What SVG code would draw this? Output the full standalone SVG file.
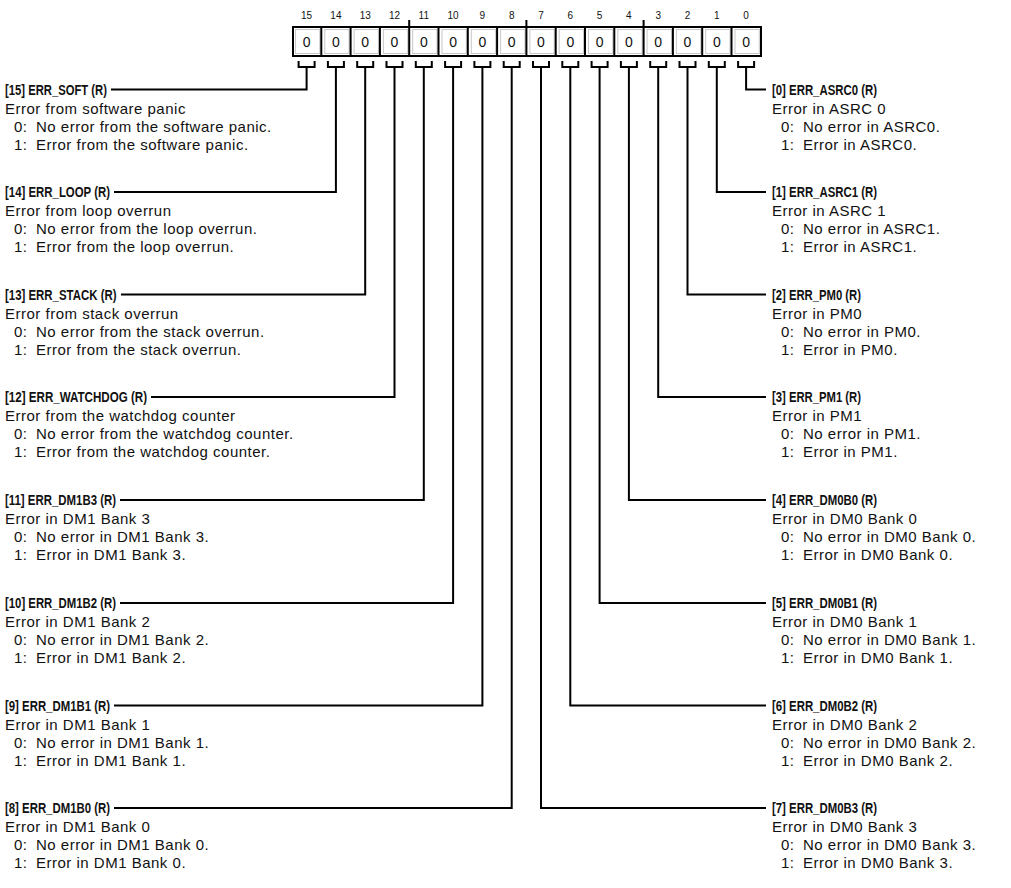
<svg xmlns="http://www.w3.org/2000/svg" width="1011" height="888" viewBox="0 0 1011 888">
<style>
text{font-family:"Liberation Sans",Arial,sans-serif;fill:#111}
.t{font-size:14.5px;font-weight:bold}
.d{font-size:15px;letter-spacing:0.5px}
.n{font-size:10px;text-anchor:middle}
.v{font-size:14px;text-anchor:middle}
.ln{fill:none;stroke:#000;stroke-width:2}
.cell{fill:#fff;stroke:#000;stroke-width:2}
.inner{fill:none;stroke:#c8c8c8;stroke-width:1}
</style>
<defs>
<path id="br" d="M-8,61 V67 H8 V61" class="ln"/>
</defs>
<g id="register">
<g>
<text class="n" x="306.6" y="19">15</text><text class="n" x="335.9" y="19">14</text><text class="n" x="365.2" y="19">13</text><text class="n" x="394.5" y="19">12</text>
<text class="n" x="423.8" y="19">11</text><text class="n" x="453.1" y="19">10</text><text class="n" x="482.4" y="19">9</text><text class="n" x="511.7" y="19">8</text>
<text class="n" x="541" y="19">7</text><text class="n" x="570.3" y="19">6</text><text class="n" x="599.6" y="19">5</text><text class="n" x="628.9" y="19">4</text>
<text class="n" x="658.2" y="19">3</text><text class="n" x="687.5" y="19">2</text><text class="n" x="716.8" y="19">1</text><text class="n" x="746.1" y="19">0</text>
</g>
<rect class="cell" x="293" y="27" width="468" height="29"/>
<g class="inner">
<rect x="295.5" y="29.5" width="24.3" height="24"/><rect x="324.8" y="29.5" width="24.3" height="24"/><rect x="354.1" y="29.5" width="24.3" height="24"/><rect x="383.4" y="29.5" width="24.3" height="24"/>
<rect x="412.7" y="29.5" width="24.3" height="24"/><rect x="442" y="29.5" width="24.3" height="24"/><rect x="471.3" y="29.5" width="24.3" height="24"/><rect x="500.6" y="29.5" width="24.3" height="24"/>
<rect x="529.9" y="29.5" width="24.3" height="24"/><rect x="559.2" y="29.5" width="24.3" height="24"/><rect x="588.5" y="29.5" width="24.3" height="24"/><rect x="617.8" y="29.5" width="24.3" height="24"/>
<rect x="647.1" y="29.5" width="24.3" height="24"/><rect x="676.4" y="29.5" width="24.3" height="24"/><rect x="705.7" y="29.5" width="24.3" height="24"/><rect x="735" y="29.5" width="24.3" height="24"/>
</g>
<path class="ln" d="M321.3,27V56M350.6,27V56M379.9,27V56M409.2,20V56M438.5,27V56M467.8,27V56M497.1,27V56M526.4,20V56M555.7,27V56M585,27V56M614.3,27V56M643.6,20V56M672.9,27V56M702.2,27V56M731.5,27V56"/>
<g>
<text class="v" x="306.6" y="46.5">0</text><text class="v" x="335.9" y="46.5">0</text><text class="v" x="365.2" y="46.5">0</text><text class="v" x="394.5" y="46.5">0</text>
<text class="v" x="423.8" y="46.5">0</text><text class="v" x="453.1" y="46.5">0</text><text class="v" x="482.4" y="46.5">0</text><text class="v" x="511.7" y="46.5">0</text>
<text class="v" x="541" y="46.5">0</text><text class="v" x="570.3" y="46.5">0</text><text class="v" x="599.6" y="46.5">0</text><text class="v" x="628.9" y="46.5">0</text>
<text class="v" x="658.2" y="46.5">0</text><text class="v" x="687.5" y="46.5">0</text><text class="v" x="716.8" y="46.5">0</text><text class="v" x="746.1" y="46.5">0</text>
</g>
</g>
<g id="connectors">
<use href="#br" x="306.6"/><use href="#br" x="335.9"/><use href="#br" x="365.2"/><use href="#br" x="394.5"/>
<use href="#br" x="423.8"/><use href="#br" x="453.1"/><use href="#br" x="482.4"/><use href="#br" x="511.7"/>
<use href="#br" x="541"/><use href="#br" x="570.3"/><use href="#br" x="599.6"/><use href="#br" x="628.9"/>
<use href="#br" x="658.2"/><use href="#br" x="687.5"/><use href="#br" x="716.8"/><use href="#br" x="746.1"/>
<path class="ln" d="M306.6,67V89.5H111"/>
<path class="ln" d="M335.9,67V192H114"/>
<path class="ln" d="M365.2,67V294.5H121"/>
<path class="ln" d="M394.5,67V397H151"/>
<path class="ln" d="M423.8,67V500H120"/>
<path class="ln" d="M453.1,67V603H120"/>
<path class="ln" d="M482.4,67V705.5H114"/>
<path class="ln" d="M511.7,67V808H114"/>
<path class="ln" d="M541,67V808H766"/>
<path class="ln" d="M570.3,67V705.5H766"/>
<path class="ln" d="M599.6,67V603H766"/>
<path class="ln" d="M628.9,67V500H766"/>
<path class="ln" d="M658.2,67V397H766"/>
<path class="ln" d="M687.5,67V294.5H766"/>
<path class="ln" d="M716.8,67V192H766"/>
<path class="ln" d="M746.1,67V89.5H766"/>
</g>
<g id="bit15"><text class="t" x="5" y="94.5" textLength="102" lengthAdjust="spacingAndGlyphs">[15] ERR_SOFT (R)</text><text class="d" x="5" y="113.5">Error from software panic</text><text class="d" x="14" y="131.5">0:</text><text class="d" x="36" y="131.5">No error from the software panic.</text><text class="d" x="14" y="149.5">1:</text><text class="d" x="36" y="149.5">Error from the software panic.</text></g>
<g id="bit14"><text class="t" x="5" y="197" textLength="105" lengthAdjust="spacingAndGlyphs">[14] ERR_LOOP (R)</text><text class="d" x="5" y="216">Error from loop overrun</text><text class="d" x="14" y="234">0:</text><text class="d" x="36" y="234">No error from the loop overrun.</text><text class="d" x="14" y="252">1:</text><text class="d" x="36" y="252">Error from the loop overrun.</text></g>
<g id="bit13"><text class="t" x="5" y="299.5" textLength="111.5" lengthAdjust="spacingAndGlyphs">[13] ERR_STACK (R)</text><text class="d" x="5" y="318.5">Error from stack overrun</text><text class="d" x="14" y="336.5">0:</text><text class="d" x="36" y="336.5">No error from the stack overrun.</text><text class="d" x="14" y="354.5">1:</text><text class="d" x="36" y="354.5">Error from the stack overrun.</text></g>
<g id="bit12"><text class="t" x="5" y="402" textLength="142" lengthAdjust="spacingAndGlyphs">[12] ERR_WATCHDOG (R)</text><text class="d" x="5" y="421">Error from the watchdog counter</text><text class="d" x="14" y="439">0:</text><text class="d" x="36" y="439">No error from the watchdog counter.</text><text class="d" x="14" y="457">1:</text><text class="d" x="36" y="457">Error from the watchdog counter.</text></g>
<g id="bit11"><text class="t" x="5" y="505" textLength="111" lengthAdjust="spacingAndGlyphs">[11] ERR_DM1B3 (R)</text><text class="d" x="5" y="524">Error in DM1 Bank 3</text><text class="d" x="14" y="542">0:</text><text class="d" x="36" y="542">No error in DM1 Bank 3.</text><text class="d" x="14" y="560">1:</text><text class="d" x="36" y="560">Error in DM1 Bank 3.</text></g>
<g id="bit10"><text class="t" x="5" y="608" textLength="111" lengthAdjust="spacingAndGlyphs">[10] ERR_DM1B2 (R)</text><text class="d" x="5" y="627">Error in DM1 Bank 2</text><text class="d" x="14" y="645">0:</text><text class="d" x="36" y="645">No error in DM1 Bank 2.</text><text class="d" x="14" y="663">1:</text><text class="d" x="36" y="663">Error in DM1 Bank 2.</text></g>
<g id="bit9"><text class="t" x="5" y="710.5" textLength="105" lengthAdjust="spacingAndGlyphs">[9] ERR_DM1B1 (R)</text><text class="d" x="5" y="729.5">Error in DM1 Bank 1</text><text class="d" x="14" y="747.5">0:</text><text class="d" x="36" y="747.5">No error in DM1 Bank 1.</text><text class="d" x="14" y="765.5">1:</text><text class="d" x="36" y="765.5">Error in DM1 Bank 1.</text></g>
<g id="bit8"><text class="t" x="5" y="813" textLength="105" lengthAdjust="spacingAndGlyphs">[8] ERR_DM1B0 (R)</text><text class="d" x="5" y="832">Error in DM1 Bank 0</text><text class="d" x="14" y="850">0:</text><text class="d" x="36" y="850">No error in DM1 Bank 0.</text><text class="d" x="14" y="868">1:</text><text class="d" x="36" y="868">Error in DM1 Bank 0.</text></g>
<g id="bit0"><text class="t" x="772" y="94.5" textLength="105" lengthAdjust="spacingAndGlyphs">[0] ERR_ASRC0 (R)</text><text class="d" x="772" y="113.5">Error in ASRC 0</text><text class="d" x="781" y="131.5">0:</text><text class="d" x="803" y="131.5">No error in ASRC0.</text><text class="d" x="781" y="149.5">1:</text><text class="d" x="803" y="149.5">Error in ASRC0.</text></g>
<g id="bit1"><text class="t" x="772" y="197" textLength="105" lengthAdjust="spacingAndGlyphs">[1] ERR_ASRC1 (R)</text><text class="d" x="772" y="216">Error in ASRC 1</text><text class="d" x="781" y="234">0:</text><text class="d" x="803" y="234">No error in ASRC1.</text><text class="d" x="781" y="252">1:</text><text class="d" x="803" y="252">Error in ASRC1.</text></g>
<g id="bit2"><text class="t" x="772" y="299.5" textLength="89" lengthAdjust="spacingAndGlyphs">[2] ERR_PM0 (R)</text><text class="d" x="772" y="318.5">Error in PM0</text><text class="d" x="781" y="336.5">0:</text><text class="d" x="803" y="336.5">No error in PM0.</text><text class="d" x="781" y="354.5">1:</text><text class="d" x="803" y="354.5">Error in PM0.</text></g>
<g id="bit3"><text class="t" x="772" y="402" textLength="89" lengthAdjust="spacingAndGlyphs">[3] ERR_PM1 (R)</text><text class="d" x="772" y="421">Error in PM1</text><text class="d" x="781" y="439">0:</text><text class="d" x="803" y="439">No error in PM1.</text><text class="d" x="781" y="457">1:</text><text class="d" x="803" y="457">Error in PM1.</text></g>
<g id="bit4"><text class="t" x="772" y="505" textLength="105" lengthAdjust="spacingAndGlyphs">[4] ERR_DM0B0 (R)</text><text class="d" x="772" y="524">Error in DM0 Bank 0</text><text class="d" x="781" y="542">0:</text><text class="d" x="803" y="542">No error in DM0 Bank 0.</text><text class="d" x="781" y="560">1:</text><text class="d" x="803" y="560">Error in DM0 Bank 0.</text></g>
<g id="bit5"><text class="t" x="772" y="608" textLength="105" lengthAdjust="spacingAndGlyphs">[5] ERR_DM0B1 (R)</text><text class="d" x="772" y="627">Error in DM0 Bank 1</text><text class="d" x="781" y="645">0:</text><text class="d" x="803" y="645">No error in DM0 Bank 1.</text><text class="d" x="781" y="663">1:</text><text class="d" x="803" y="663">Error in DM0 Bank 1.</text></g>
<g id="bit6"><text class="t" x="772" y="710.5" textLength="105" lengthAdjust="spacingAndGlyphs">[6] ERR_DM0B2 (R)</text><text class="d" x="772" y="729.5">Error in DM0 Bank 2</text><text class="d" x="781" y="747.5">0:</text><text class="d" x="803" y="747.5">No error in DM0 Bank 2.</text><text class="d" x="781" y="765.5">1:</text><text class="d" x="803" y="765.5">Error in DM0 Bank 2.</text></g>
<g id="bit7"><text class="t" x="772" y="813" textLength="105" lengthAdjust="spacingAndGlyphs">[7] ERR_DM0B3 (R)</text><text class="d" x="772" y="832">Error in DM0 Bank 3</text><text class="d" x="781" y="850">0:</text><text class="d" x="803" y="850">No error in DM0 Bank 3.</text><text class="d" x="781" y="868">1:</text><text class="d" x="803" y="868">Error in DM0 Bank 3.</text></g>
</svg>
